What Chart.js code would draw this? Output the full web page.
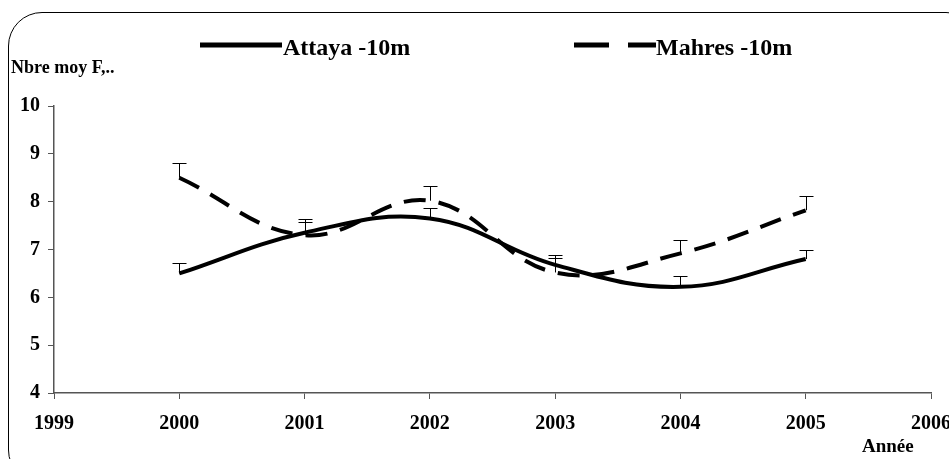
<!DOCTYPE html>
<html lang="fr">
<head>
<meta charset="UTF-8">
<title>Nbre moy - Attaya / Mahres</title>
<script src="https://cdn.jsdelivr.net/npm/chart.js"></script>
<style>
  body { margin: 0; background: #fff; font-family: "Liberation Serif", "DejaVu Serif", serif; }
  #wrap { position: relative; width: 949px; height: 459px; overflow: hidden; }
  #frame { position: absolute; left: 8px; top: 12px; width: 970px; height: 470px; border: 1.5px solid #000; border-radius: 34px; }
  canvas { position: absolute; left: 0; top: 0; }
  .lbl { position: absolute; font-weight: bold; color: #000; white-space: nowrap; line-height: 1; }
  .leg { position: absolute; top: 35px; }
</style>
</head>
<body>
<div id="wrap">
  <div id="frame"></div>
  <canvas id="c" width="949" height="459"></canvas>
  <svg class="leg" style="left:200px" width="82" height="20"><line x1="0" y1="10" x2="82" y2="10" stroke="#000" stroke-width="5"/></svg>
  <div class="lbl" style="left:283px;top:35px;font-size:24px">Attaya -10m</div>
  <svg class="leg" style="left:574px" width="82" height="20"><line x1="0" y1="10" x2="82" y2="10" stroke="#000" stroke-width="5" stroke-dasharray="35 19"/></svg>
  <div class="lbl" style="left:656px;top:35px;font-size:24px">Mahres -10m</div>
  <div class="lbl" style="left:11px;top:58px;font-size:18px">Nbre moy F,..</div>
  <div class="lbl" style="left:862px;top:436px;font-size:19px">Année</div>
</div>
<script>
const years = [2000, 2001, 2002, 2003, 2004, 2005];
const attaya = [6.5, 7.35, 7.65, 6.68, 6.22, 6.8];
const attayaErr = [0.22, 0.28, 0.22, 0.2, 0.22, 0.2];
const mahres = [8.5, 7.3, 8.02, 6.52, 6.92, 7.82];
const mahresErr = [0.3, 0.28, 0.3, 0.3, 0.28, 0.3];

const errorBars = {
  id: 'errorBars',
  afterDatasetsDraw(chart) {
    const ctx = chart.ctx;
    const xs = chart.scales.x, ys = chart.scales.y;
    const sets = [[attaya, attayaErr], [mahres, mahresErr]];
    ctx.save();
    ctx.strokeStyle = '#000';
    ctx.lineWidth = 1;
    sets.forEach(([vals, errs]) => {
      vals.forEach((v, i) => {
        const x = Math.round(xs.getPixelForValue(years[i])) + 0.5;
        const y0 = ys.getPixelForValue(v);
        const y1 = Math.round(ys.getPixelForValue(v + errs[i])) + 0.5;
        ctx.beginPath();
        ctx.moveTo(x, y0);
        ctx.lineTo(x, y1);
        ctx.moveTo(x - 7, y1);
        ctx.lineTo(x + 7, y1);
        ctx.stroke();
      });
    });
    ctx.restore();
  }
};

const tickFont = { family: 'Liberation Serif', size: 20, weight: 'bold' };

new Chart(document.getElementById('c'), {
  type: 'line',
  data: {
    datasets: [
      {
        label: 'Attaya -10m',
        data: years.map((y, i) => ({ x: y, y: attaya[i] })),
        borderColor: '#000',
        borderWidth: 4,
        tension: 0.4,
        pointRadius: 0
      },
      {
        label: 'Mahres -10m',
        data: years.map((y, i) => ({ x: y, y: mahres[i] })),
        borderColor: '#000',
        borderWidth: 4,
        borderDash: [22, 13],
        tension: 0.4,
        pointRadius: 0
      }
    ]
  },
  options: {
    responsive: false,
    animation: false,
    layout: { padding: { left: 0, top: 106, right: 18, bottom: 0 } },
    plugins: { legend: { display: false }, tooltip: { enabled: false } },
    scales: {
      x: {
        type: 'linear',
        min: 1999,
        max: 2006,
        afterFit(s) { s.height = 66; s.paddingLeft = 0; s.paddingRight = 0; },
        ticks: { stepSize: 1, color: '#000', font: tickFont, padding: 13, maxRotation: 0,
                 callback: v => String(v) },
        grid: { drawOnChartArea: false, tickLength: 6, color: '#555' },
        border: { color: '#555', width: 1.5 }
      },
      y: {
        min: 4,
        max: 10,
        afterFit(s) { s.width = 54; s.paddingTop = 0; s.paddingBottom = 0; },
        ticks: { stepSize: 1, color: '#000', font: tickFont, padding: 8 },
        grid: { drawOnChartArea: false, tickLength: 6, color: '#555' },
        border: { color: '#555', width: 1.5 }
      }
    }
  },
  plugins: [errorBars]
});
</script>
</body>
</html>
